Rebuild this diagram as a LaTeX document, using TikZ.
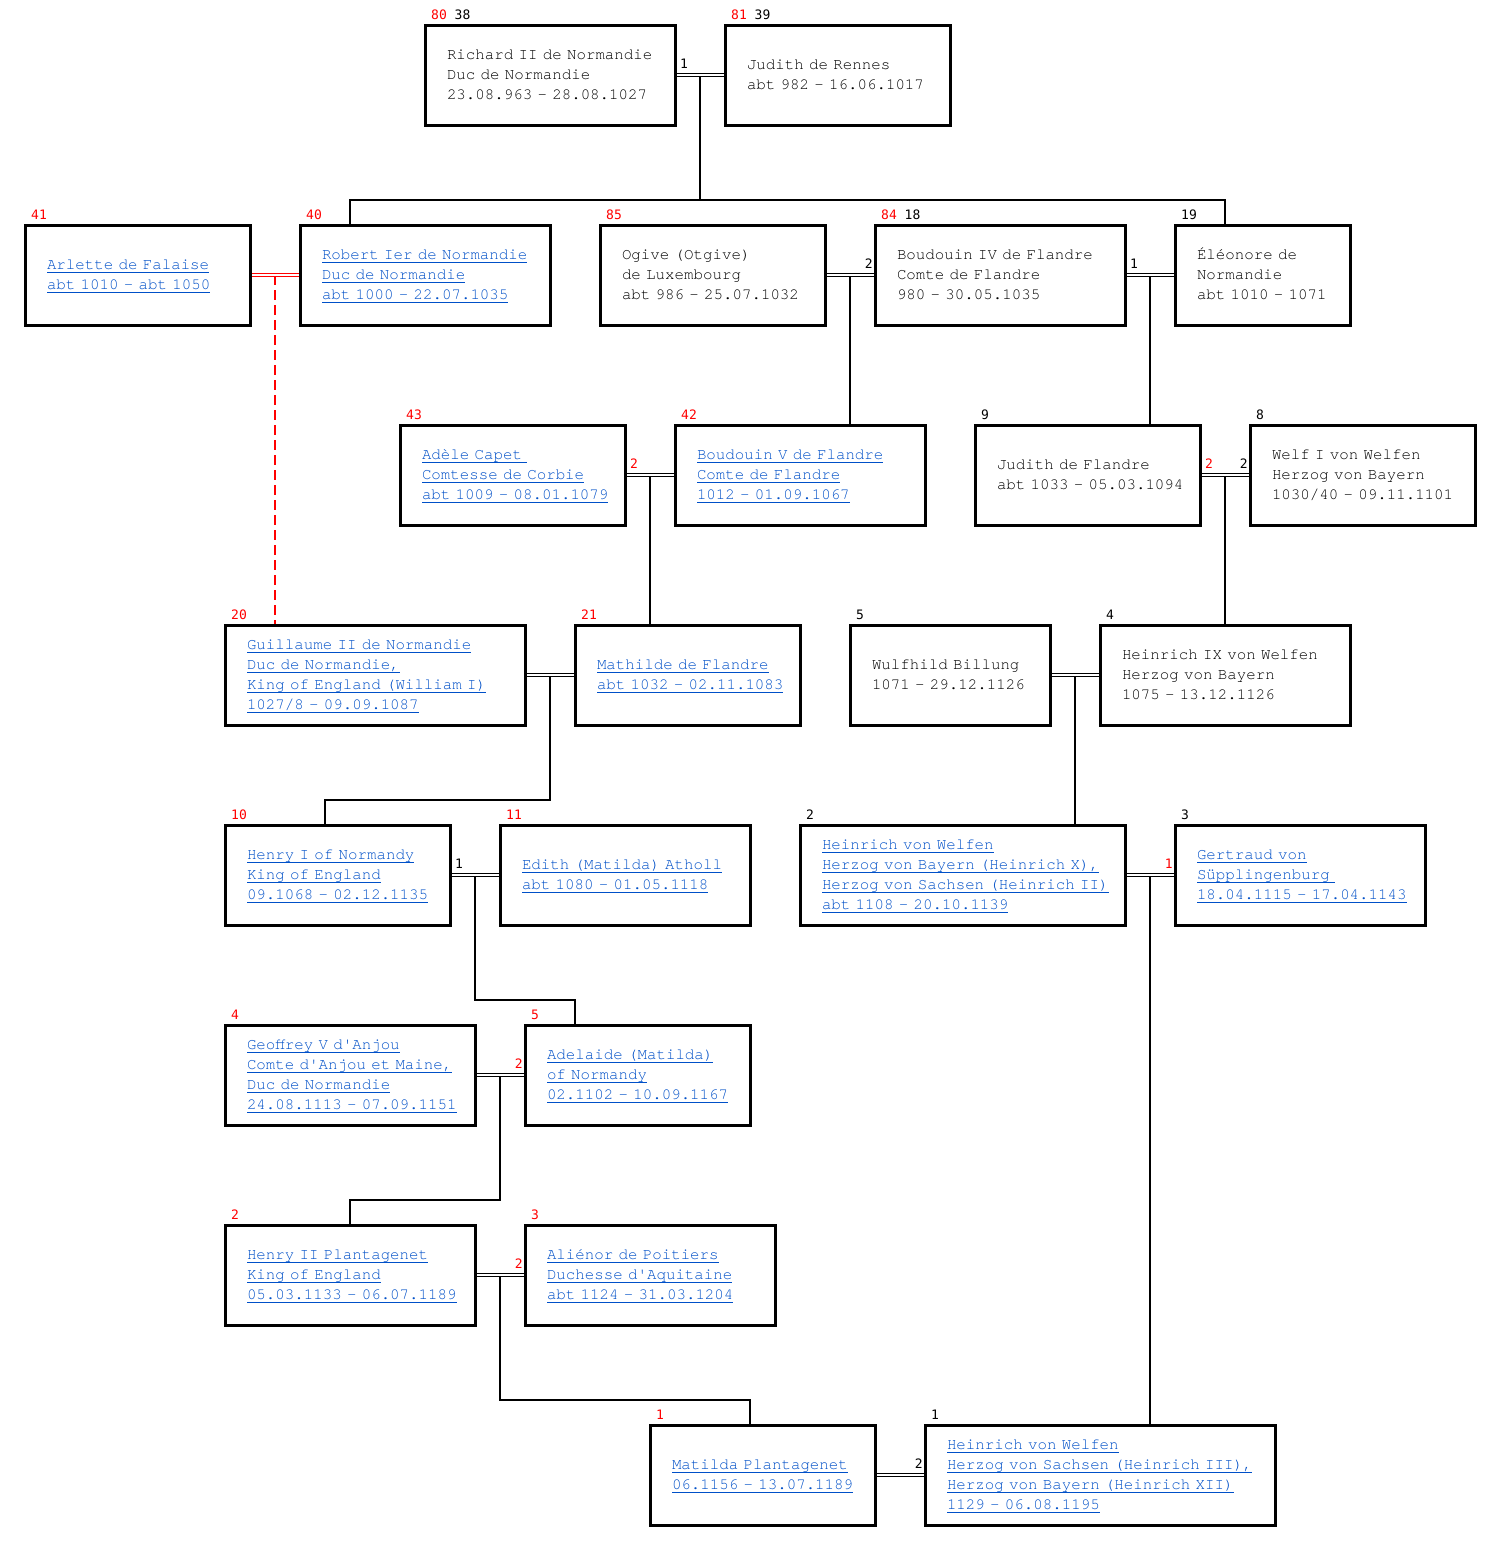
\documentclass[tikz,border=0pt]{standalone}
\usepackage{fontspec}
\usepackage{xcolor}
\usepackage{tikz}
\usetikzlibrary{calc,backgrounds}

\newfontfamily\boxfont{texgyrecursor-regular.otf}
\newfontfamily\numfont{DejaVu Sans Mono}
\definecolor{linkblue}{RGB}{0,80,200}

\newcommand\boxtext{\boxfont\fontsize{15.8}{20}\selectfont}
\newcommand\pl[1]{\mbox{\strut #1}}
\newcommand\lk[1]{\setbox0=\hbox{#1}\mbox{\strut\rlap{\rule[-3.5pt]{\wd0}{1pt}}\box0}}
\newcommand\rd[1]{\textcolor{red}{#1}}

\tikzset{
  person/.style={draw, line width=3pt, outer sep=0pt, minimum height=100pt,
    inner xsep=22pt, inner ysep=0pt, text width=#1pt, align=left, font=\boxtext},
  link/.style={person=#1, text=linkblue},
  num/.style={inner sep=0pt, anchor=base west, font=\numfont\fontsize{13}{13}\selectfont},
  marriage/.style={double, double distance=1.4pt, line width=1.2pt},
  famline/.style={line width=2pt},
  illegit/.style={red, line width=2pt, dash pattern=on 10pt off 5pt}
}

\begin{document}
\begin{tikzpicture}[x=1pt, y=-1pt]
\useasboundingbox (0,0) rectangle (1501,1551);

% generation 1
\node[person=206] (richard) at (550,75) {\pl{Richard II de Normandie}\\\pl{Duc de Normandie}\\\pl{23.08.963 - 28.08.1027}};
\node[person=181] (judithR) at (837.5,75) {\pl{Judith de Rennes}\\\pl{abt 982 - 16.06.1017}};

% generation 2
\node[link=181] (arlette) at (137.5,275) {\lk{Arlette de Falaise}\\\lk{abt 1010 - abt 1050}};
\node[link=206] (robert) at (425,275) {\lk{Robert Ier de Normandie}\\\lk{Duc de Normandie}\\\lk{abt 1000 - 22.07.1035}};
\node[person=181] (ogive) at (712.5,275) {\pl{Ogive (Otgive)}\\\pl{de Luxembourg}\\\pl{abt 986 - 25.07.1032}};
\node[person=206] (boudouinIV) at (1000,275) {\pl{Boudouin IV de Flandre}\\\pl{Comte de Flandre}\\\pl{980 - 30.05.1035}};
\node[person=131] (eleonore) at (1262.5,275) {\pl{Éléonore de}\\\pl{Normandie}\\\pl{abt 1010 - 1071}};

% generation 3
\node[link=181] (adele) at (512.5,475) {\lk{Adèle Capet\ }\\\lk{Comtesse de Corbie}\\\lk{abt 1009 - 08.01.1079}};
\node[link=206] (boudouinV) at (800,475) {\lk{Boudouin V de Flandre}\\\lk{Comte de Flandre}\\\lk{1012 - 01.09.1067}};
\node[person=181] (judithF) at (1087.5,475) {\pl{Judith de Flandre}\\\pl{abt 1033 - 05.03.1094}};
\node[person=181] (welf) at (1362.5,475) {\pl{Welf I von Welfen}\\\pl{Herzog von Bayern}\\\pl{1030/40 - 09.11.1101}};

% generation 4
\node[link=256] (guillaume) at (375,675) {\lk{Guillaume II de Normandie}\\\lk{Duc de Normandie,}\\\lk{King of England (William I)}\\\lk{1027/8 - 09.09.1087}};
\node[link=181] (mathilde) at (687.5,675) {\lk{Mathilde de Flandre}\\\lk{abt 1032 - 02.11.1083}};
\node[person=156] (wulfhild) at (950,675) {\pl{Wulfhild Billung}\\\pl{1071 - 29.12.1126}};
\node[person=206] (heinrichIX) at (1225,675) {\pl{Heinrich IX von Welfen}\\\pl{Herzog von Bayern}\\\pl{1075 - 13.12.1126}};

% generation 5
\node[link=181] (henryI) at (337.5,875) {\lk{Henry I of Normandy}\\\lk{King of England}\\\lk{09.1068 - 02.12.1135}};
\node[link=206] (edith) at (625,875) {\lk{Edith (Matilda) Atholl}\\\lk{abt 1080 - 01.05.1118}};
\node[link=281] (heinrichX) at (962.5,875) {\lk{Heinrich von Welfen}\\\lk{Herzog von Bayern (Heinrich X),}\\\lk{Herzog von Sachsen (Heinrich II)}\\\lk{abt 1108 - 20.10.1139}};
\node[link=206] (gertraud) at (1300,875) {\lk{Gertraud von}\\\lk{Süpplingenburg\ }\\\lk{18.04.1115 - 17.04.1143}};

% generation 6
\node[link=206] (geoffrey) at (350,1075) {\lk{Geoffrey V d'Anjou}\\\lk{Comte d'Anjou et Maine,}\\\lk{Duc de Normandie}\\\lk{24.08.1113 - 07.09.1151}};
\node[link=181] (adelaide) at (637.5,1075) {\lk{Adelaide (Matilda)}\\\lk{of Normandy}\\\lk{02.1102 - 10.09.1167}};

% generation 7
\node[link=206] (henryII) at (350,1275) {\lk{Henry II Plantagenet}\\\lk{King of England}\\\lk{05.03.1133 - 06.07.1189}};
\node[link=206] (alienor) at (650,1275) {\lk{Aliénor de Poitiers}\\\lk{Duchesse d'Aquitaine}\\\lk{abt 1124 - 31.03.1204}};

% generation 8
\node[link=181] (matilda) at (762.5,1475) {\lk{Matilda Plantagenet}\\\lk{06.1156 - 13.07.1189}};
\node[link=306] (heinrichIII) at (1100,1475) {\lk{Heinrich von Welfen}\\\lk{Herzog von Sachsen (Heinrich III),}\\\lk{Herzog von Bayern (Heinrich XII)}\\\lk{1129 - 06.08.1195}};

% numbers above the boxes
\foreach \p/\t in {richard/{\rd{80} 38}, judithR/{\rd{81} 39}, arlette/\rd{41}, robert/\rd{40},
    ogive/\rd{85}, boudouinIV/{\rd{84} 18}, eleonore/19, adele/\rd{43}, boudouinV/\rd{42},
    judithF/9, welf/8, guillaume/\rd{20}, mathilde/\rd{21}, wulfhild/5, heinrichIX/4,
    henryI/\rd{10}, edith/\rd{11}, heinrichX/2, gertraud/3, geoffrey/\rd{4}, adelaide/\rd{5},
    henryII/\rd{2}, alienor/\rd{3}, matilda/\rd{1}, heinrichIII/1}
  \node[num] (\p-nr) at ([shift={(6,-6)}]\p.north west) {\t};

% marriage points
\foreach \a/\b/\m in {richard/judithR/m1, arlette/robert/m2, ogive/boudouinIV/m3,
    boudouinIV/eleonore/m4, adele/boudouinV/m5, judithF/welf/m6, guillaume/mathilde/m7,
    wulfhild/heinrichIX/m8, henryI/edith/m9, heinrichX/gertraud/m10, geoffrey/adelaide/m11,
    henryII/alienor/m12, matilda/heinrichIII/m13}
  \coordinate (\m) at ($(\a.east)!0.5!(\b.west)$);

% marriage numbers
\node[num] (m1-l) at ([shift={(5,-7)}]richard.east) {1};
\node[num] (m4-l) at ([shift={(5,-7)}]boudouinIV.east) {1};
\node[num] (m5-l) at ([shift={(5,-7)}]adele.east) {\rd{2}};
\node[num] (m6-l) at ([shift={(5,-7)}]judithF.east) {\rd{2}};
\node[num] (m9-l) at ([shift={(5,-7)}]henryI.east) {1};
\node[num, anchor=base east] (m3-r) at ([shift={(-2,-7)}]boudouinIV.west) {2};
\node[num, anchor=base east] (m6-r) at ([shift={(-2,-7)}]welf.west) {2};
\node[num, anchor=base east] (m10-r) at ([shift={(-2,-7)}]gertraud.west) {\rd{1}};
\node[num, anchor=base east] (m11-r) at ([shift={(-2,-7)}]adelaide.west) {\rd{2}};
\node[num, anchor=base east] (m12-r) at ([shift={(-2,-7)}]alienor.west) {\rd{2}};
\node[num, anchor=base east] (m13-r) at ([shift={(-2,-7)}]heinrichIII.west) {2};

\begin{scope}[on background layer]
  \fill[white] (0,0) rectangle (1501,1551);
  % children
  \draw[famline] (m1) -- ++(0,125) coordinate (j1) -| ([xshift=50]robert.north west);
  \draw[famline] (j1) -| ([xshift=50]eleonore.north west);
  \draw[illegit] (m2) -- (m2 |- guillaume.north);
  \draw[famline] (m3) -- (m3 |- boudouinV.north);
  \draw[famline] (m4) -- (m4 |- judithF.north);
  \draw[famline] (m5) -- (m5 |- mathilde.north);
  \draw[famline] (m6) -- (m6 |- heinrichIX.north);
  \draw[famline] (m7) -- ++(0,125) -| ([xshift=100]henryI.north west);
  \draw[famline] (m8) -- (m8 |- heinrichX.north);
  \draw[famline] (m9) -- ++(0,125) -| ([xshift=50]adelaide.north west);
  \draw[famline] (m10) -- (m10 |- heinrichIII.north);
  \draw[famline] (m11) -- ++(0,125) -| ([xshift=125]henryII.north west);
  \draw[famline] (m12) -- ++(0,125) -| ([xshift=100]matilda.north west);
  % couples
  \draw[marriage, red] (arlette.east) -- (robert.west);
  \foreach \a/\b in {richard/judithR, ogive/boudouinIV, boudouinIV/eleonore, adele/boudouinV,
      judithF/welf, guillaume/mathilde, wulfhild/heinrichIX, henryI/edith, heinrichX/gertraud,
      geoffrey/adelaide, henryII/alienor, matilda/heinrichIII}
    \draw[marriage] (\a.east) -- (\b.west);
\end{scope}
\end{tikzpicture}
\end{document}
